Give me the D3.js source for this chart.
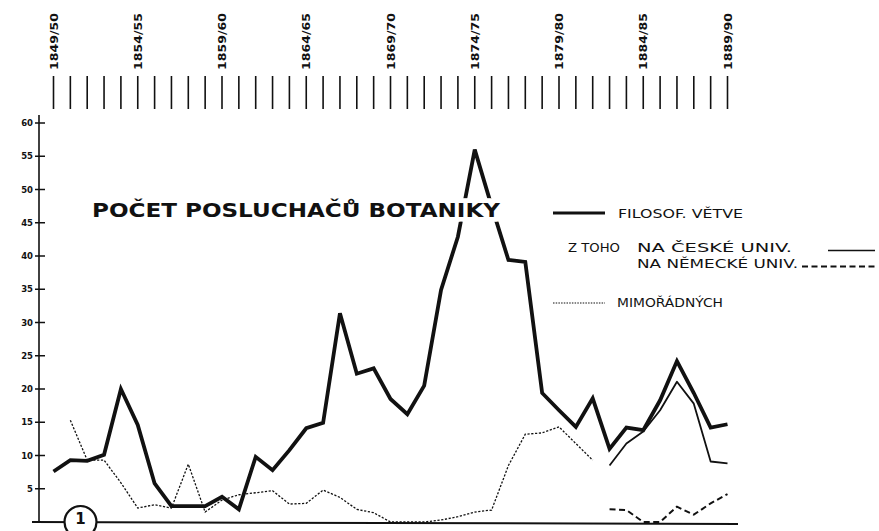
<!DOCTYPE html>
<html><head><meta charset="utf-8">
<script src="https://cdn.jsdelivr.net/npm/d3@7"></script>
<style>html,body{margin:0;padding:0;background:#fff;}svg{display:block;}</style>
</head><body><svg id="c" width="879" height="531"></svg>
<script>
const years = ["1849/50","1850/51","1851/52","1852/53","1853/54","1854/55","1855/56","1856/57","1857/58","1858/59",
"1859/60","1860/61","1861/62","1862/63","1863/64","1864/65","1865/66","1866/67","1867/68","1868/69",
"1869/70","1870/71","1871/72","1872/73","1873/74","1874/75","1875/76","1876/77","1877/78","1878/79",
"1879/80","1880/81","1881/82","1882/83","1883/84","1884/85","1885/86","1886/87","1887/88","1888/89","1889/90"];
const labelledYears = ["1849/50","1854/55","1859/60","1864/65","1869/70","1874/75","1879/80","1884/85","1889/90"];
const yTicks = [5,10,15,20,25,30,35,40,45,50,55,60];
// FILOSOF. VĚTVE (total)
const total = [7.6,9.3,9.2,10.1,20,14.6,5.8,2.4,2.4,2.4,3.8,1.9,9.8,7.8,10.8,14.1,14.9,31.4,22.3,23.1,
18.5,16.2,20.5,34.9,42.9,56,47.5,39.4,39.1,19.4,16.8,14.3,18.6,11,14.2,13.8,18.3,24.2,19.4,14.2,14.7];
// MIMOŘÁDNÝCH
const extraordinary = [null,15.3,9.3,9.3,5.9,2.1,2.6,2.1,8.7,1.5,3.3,4.1,4.4,4.7,2.7,2.8,4.8,3.7,1.9,1.4,
0,0,0,0.3,0.8,1.5,1.8,8.5,13.2,13.4,14.3,11.8,9.3,null,null,null,null,null,null,null,null];
// NA ČESKÉ UNIV.
const czech = [null,null,null,null,null,null,null,null,null,null,null,null,null,null,null,null,null,null,null,null,
null,null,null,null,null,null,null,null,null,null,null,null,null,8.5,11.8,13.6,16.8,21.1,17.8,9.1,8.8];
// NA NĚMECKÉ UNIV.
const german = [null,null,null,null,null,null,null,null,null,null,null,null,null,null,null,null,null,null,null,null,
null,null,null,null,null,null,null,null,null,null,null,null,null,1.9,1.8,0,0,2.3,1.1,2.8,4.2];

const svg = d3.select("#c");
const x = d3.scaleLinear().domain([0, years.length-1]).range([53.5, 727.5]);
const y = d3.scaleLinear().domain([0, 60]).range([522, 123]);
const ink = "#111";

// top tick marks & rotated year labels
svg.append("g").selectAll("line").data(years).join("line")
  .attr("x1",(d,i)=>x(i)).attr("x2",(d,i)=>x(i)).attr("y1",76).attr("y2",109)
  .attr("stroke",ink).attr("stroke-width",1.6);
svg.append("g").selectAll("text").data(labelledYears).join("text")
  .attr("transform",d=>`translate(${x(years.indexOf(d))},70) rotate(-90)`)
  .attr("dominant-baseline","central")
  .attr("font-family","DejaVu Sans").attr("font-weight","bold").attr("font-size",10.5)
  .attr("textLength",57).attr("lengthAdjust","spacingAndGlyphs")
  .attr("fill",ink).text(d=>d);

// y axis
svg.append("line").attr("x1",39).attr("x2",39).attr("y1",115).attr("y2",y(0)).attr("stroke",ink).attr("stroke-width",1.6);
svg.append("g").selectAll("line").data(yTicks).join("line")
  .attr("x1",35).attr("x2",45).attr("y1",d=>y(d)).attr("y2",d=>y(d)).attr("stroke",ink).attr("stroke-width",1.5);
svg.append("g").selectAll("text").data(yTicks).join("text")
  .attr("x",33).attr("y",d=>y(d)).attr("text-anchor","end").attr("dominant-baseline","central")
  .attr("font-family","DejaVu Sans").attr("font-weight","bold").attr("font-size",8.5)
  .attr("fill",ink).text(d=>d);
// baseline
svg.append("line").attr("x1",32).attr("x2",738).attr("y1",y(0)).attr("y2",y(0)+2).attr("stroke",ink).attr("stroke-width",2);

const dline = d3.line().x(d=>x(d.i)).y(d=>y(d.v));
const pts = arr => arr.map((v,i)=>({i,v})).filter(d=>d.v!=null);

svg.append("path").datum(pts(extraordinary)).attr("d",dline).attr("fill","none")
  .attr("stroke",ink).attr("stroke-width",1.3).attr("stroke-dasharray","2.2,1.6");
svg.append("path").datum(pts(german)).attr("d",dline).attr("fill","none")
  .attr("stroke",ink).attr("stroke-width",2).attr("stroke-dasharray","6,3.5");
svg.append("path").datum(pts(czech)).attr("d",dline).attr("fill","none")
  .attr("stroke",ink).attr("stroke-width",1.8).attr("stroke-linejoin","round");
svg.append("path").datum(pts(total)).attr("d",dline).attr("fill","none")
  .attr("stroke",ink).attr("stroke-width",3.8).attr("stroke-linejoin","miter");

// circle "1"
svg.append("circle").attr("cx",80.5).attr("cy",y(0)).attr("r",16).attr("fill","#fff").attr("stroke",ink).attr("stroke-width",2.2);
svg.append("text").attr("x",80.5).attr("y",y(0)-3).attr("text-anchor","middle").attr("dominant-baseline","central")
  .attr("font-family","DejaVu Sans").attr("font-weight","bold").attr("font-size",15).attr("fill",ink).text("1");

// title
svg.append("text").attr("x",92).attr("y",217)
  .attr("font-family","DejaVu Sans").attr("font-weight","bold").attr("font-size",20)
  .attr("textLength",408).attr("lengthAdjust","spacingAndGlyphs")
  .attr("fill",ink).attr("stroke","#fff").attr("stroke-width",9).attr("paint-order","stroke")
  .text("POČET POSLUCHAČŮ BOTANIKY");

// legend
const lg = svg.append("g").attr("font-family","DejaVu Sans").attr("font-size",11.5).attr("fill",ink);
lg.append("line").attr("x1",553).attr("x2",605).attr("y1",213).attr("y2",213).attr("stroke",ink).attr("stroke-width",3);
lg.append("text").attr("x",618).attr("y",218).attr("textLength",125).attr("lengthAdjust","spacingAndGlyphs").text("FILOSOF. VĚTVE");
lg.append("text").attr("x",568).attr("y",252).attr("textLength",52).attr("lengthAdjust","spacingAndGlyphs").text("Z TOHO");
lg.append("text").attr("x",637).attr("y",252).attr("textLength",155).attr("lengthAdjust","spacingAndGlyphs").text("NA ČESKÉ UNIV.");
lg.append("line").attr("x1",828).attr("x2",875).attr("y1",250.5).attr("y2",250.5).attr("stroke",ink).attr("stroke-width",1.6);
lg.append("text").attr("x",637).attr("y",268).attr("textLength",161).attr("lengthAdjust","spacingAndGlyphs").text("NA NĚMECKÉ UNIV.");
lg.append("line").attr("x1",802).attr("x2",875).attr("y1",266.5).attr("y2",266.5).attr("stroke",ink).attr("stroke-width",1.8).attr("stroke-dasharray","6,3.5");
lg.append("line").attr("x1",553).attr("x2",605).attr("y1",303).attr("y2",303).attr("stroke",ink).attr("stroke-width",1.2).attr("stroke-dasharray","1.5,1.2");
lg.append("text").attr("x",617).attr("y",307).attr("textLength",106).attr("lengthAdjust","spacingAndGlyphs").text("MIMOŘÁDNÝCH");
</script></body></html>
